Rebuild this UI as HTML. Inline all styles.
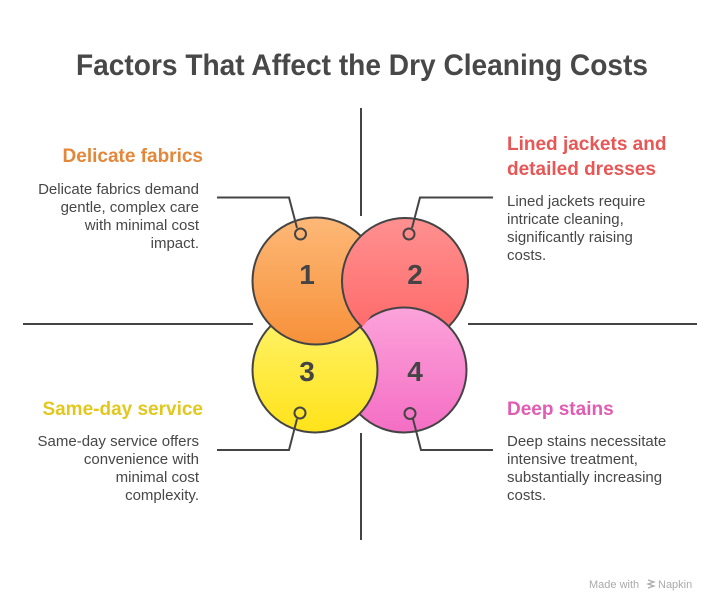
<!DOCTYPE html>
<html><head><meta charset="utf-8"><style>
html,body{margin:0;padding:0;background:#fff;}
svg{display:block;}
text{font-family:"Liberation Sans",Arial,sans-serif;}
</style></head><body>
<svg width="721" height="612" viewBox="0 0 721 612" xmlns="http://www.w3.org/2000/svg">
<defs>
<linearGradient id="g1" x1="0" y1="0" x2="0" y2="1"><stop offset="0" stop-color="#fdb877"/><stop offset="1" stop-color="#f7913a"/></linearGradient>
<linearGradient id="g2" x1="0" y1="0" x2="0" y2="1"><stop offset="0" stop-color="#ff9090"/><stop offset="1" stop-color="#ff6666"/></linearGradient>
<linearGradient id="g3" x1="0" y1="0" x2="0" y2="1"><stop offset="0" stop-color="#fff36e"/><stop offset="1" stop-color="#ffe31a"/></linearGradient>
<linearGradient id="g4" x1="0" y1="0" x2="0" y2="1"><stop offset="0" stop-color="#fca3da"/><stop offset="1" stop-color="#f46ec4"/></linearGradient>
<clipPath id="c1"><circle cx="316" cy="281" r="65"/></clipPath>
</defs>

<text x="362" y="75" text-anchor="middle" font-size="30" font-weight="bold" fill="#484848" textLength="572" lengthAdjust="spacingAndGlyphs">Factors That Affect the Dry Cleaning Costs</text>

<g stroke="#444" stroke-width="2" fill="none">
<line x1="361" y1="108" x2="361" y2="216"/>
<line x1="361" y1="433" x2="361" y2="540"/>
<line x1="23" y1="324" x2="253" y2="324"/>
<line x1="468" y1="324" x2="697" y2="324"/>
</g>

<g stroke="#444" stroke-width="2">
<circle cx="405" cy="281" r="63" fill="url(#g2)"/>
<circle cx="404" cy="370" r="62.5" fill="url(#g4)"/>
<circle cx="315" cy="370" r="62.5" fill="url(#g3)"/>
<circle cx="316" cy="281" r="63.5" fill="url(#g1)"/>
<g clip-path="url(#c1)"><circle cx="405" cy="281" r="63" fill="url(#g2)"/></g>
</g>

<g font-size="28" font-weight="bold" fill="#444" text-anchor="middle">
<text x="307" y="284">1</text>
<text x="415" y="284">2</text>
<text x="307" y="381">3</text>
<text x="415" y="381">4</text>
</g>

<g stroke="#444" stroke-width="2" fill="none">
<polyline points="217,197.5 289,197.5 297,228"/>
<circle cx="300.5" cy="234" r="5.5"/>
<polyline points="493,197.5 420,197.5 412,228"/>
<circle cx="409" cy="234" r="5.5"/>
<polyline points="217,450 289,450 297,419"/>
<circle cx="300" cy="413" r="5.5"/>
<polyline points="493,450 421,450 413,419"/>
<circle cx="410" cy="413.5" r="5.5"/>
</g>

<g font-size="19" font-weight="bold">
<text x="203" y="162" text-anchor="end" fill="#e3873a">Delicate fabrics</text>
<text x="507" y="150" fill="#e85656">Lined jackets and</text>
<text x="507" y="175" fill="#e85656">detailed dresses</text>
<text x="203" y="415" text-anchor="end" fill="#e2c81e">Same-day service</text>
<text x="507" y="415" fill="#e15cb2">Deep stains</text>
</g>

<g font-size="15" fill="#474747">
<text x="199" y="194" text-anchor="end">Delicate fabrics demand</text>
<text x="199" y="212" text-anchor="end">gentle, complex care</text>
<text x="199" y="230" text-anchor="end">with minimal cost</text>
<text x="199" y="248" text-anchor="end">impact.</text>

<text x="507" y="206">Lined jackets require</text>
<text x="507" y="224">intricate cleaning,</text>
<text x="507" y="242">significantly raising</text>
<text x="507" y="260">costs.</text>

<text x="199" y="446" text-anchor="end">Same-day service offers</text>
<text x="199" y="464" text-anchor="end">convenience with</text>
<text x="199" y="482" text-anchor="end">minimal cost</text>
<text x="199" y="500" text-anchor="end">complexity.</text>

<text x="507" y="446">Deep stains necessitate</text>
<text x="507" y="464">intensive treatment,</text>
<text x="507" y="482">substantially increasing</text>
<text x="507" y="500">costs.</text>
</g>

<text x="589" y="588" font-size="11" fill="#aaa">Made with</text>
<g stroke="#aaa" stroke-width="1.2" fill="none">
<path d="M648 580 l6 2 l-6 2 l6 2 l-6 2"/>
</g>
<text x="658" y="588" font-size="11" fill="#aaa">Napkin</text>
</svg>
</body></html>
